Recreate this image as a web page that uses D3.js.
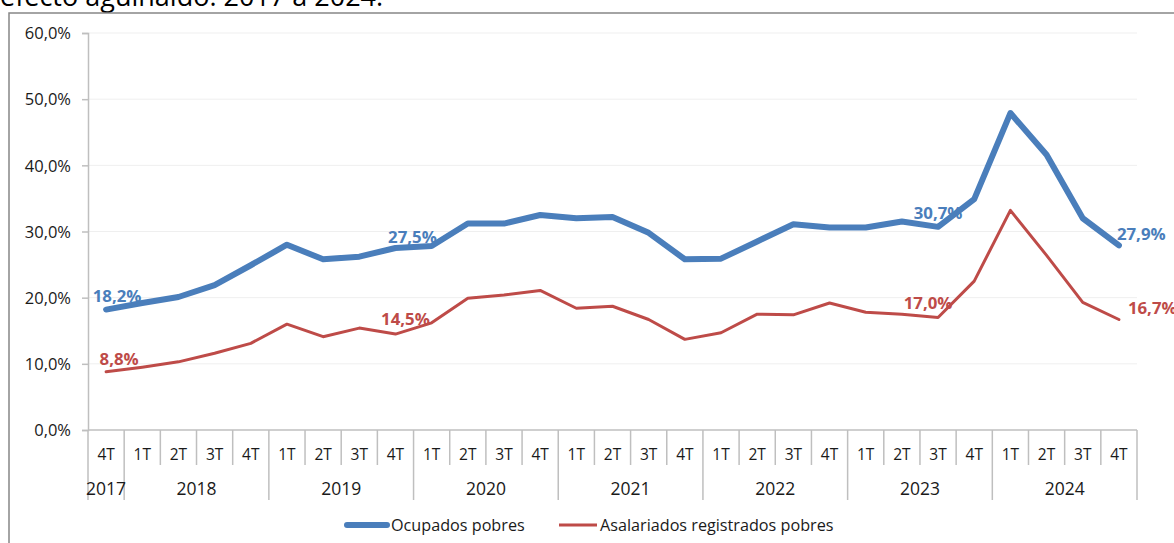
<!DOCTYPE html>
<html>
<head>
<meta charset="utf-8">
<script src="https://cdn.jsdelivr.net/npm/d3@7"></script>
<style>
  html, body { margin: 0; padding: 0; background: #fff; }
  svg { display: block; }
  text { font-family: "Open Sans", "Noto Sans", sans-serif; }
</style>
</head>
<body>
<svg id="chart" width="1174" height="543"></svg>
<script>
// ---- data ----
const quarterLabels = ["4T",
  "1T","2T","3T","4T",
  "1T","2T","3T","4T",
  "1T","2T","3T","4T",
  "1T","2T","3T","4T",
  "1T","2T","3T","4T",
  "1T","2T","3T","4T",
  "1T","2T","3T","4T"];
const yearLabels = ["2017",
  "2018","2018","2018","2018",
  "2019","2019","2019","2019",
  "2020","2020","2020","2020",
  "2021","2021","2021","2021",
  "2022","2022","2022","2022",
  "2023","2023","2023","2023",
  "2024","2024","2024","2024"];
const ocupadosPobres = [18.2,19.2,20.1,21.9,24.9,28.0,25.8,26.2,27.5,27.8,31.2,31.2,32.5,32.0,32.2,29.8,25.8,25.9,28.5,31.1,30.6,30.6,31.5,30.7,34.9,47.9,41.6,32.0,27.9];
const asalariadosPobres = [8.8,9.5,10.3,11.6,13.1,16.0,14.1,15.4,14.5,16.2,19.9,20.4,21.1,18.4,18.7,16.7,13.7,14.7,17.5,17.4,19.2,17.8,17.5,17.0,22.5,33.2,26.4,19.3,16.7];
const yTicks = [0,10,20,30,40,50,60];
const seriesNames = ["Ocupados pobres","Asalariados registrados pobres"];
const labeledIdx = [0, 8, 23, 28];
const titleText = "efecto aguinaldo: 2017 a 2024.";

// ---- styling / layout ----
const colors = ["#4a7ebb", "#be4b48"];
const widths = [6, 3];
const svg = d3.select("#chart");
const L = 88, R = 1137, T = 33, B = 430;

const n = quarterLabels.length;
const x = d3.scaleBand().domain(d3.range(n)).range([L, R]).paddingInner(0).paddingOuter(0);
const bw = x.bandwidth();
const cx = i => x(i) + bw / 2;
const y = d3.scaleLinear().domain([0, 60]).range([B, T]);

const loc = d3.formatLocale({decimal: ",", thousands: ".", grouping: [3], currency: ["$", ""]});
const fmt1 = loc.format(".1f");
const pct = v => fmt1(v) + "%";

// title (cropped at top, as in the source image)
svg.append("text").attr("x", 0).attr("y", 6)
  .attr("font-size", 27).attr("fill", "#000").text(titleText);

// chart border
svg.append("rect").attr("x", 9).attr("y", 13).attr("width", 1200).attr("height", 600)
  .attr("fill", "none").attr("stroke", "#878787").attr("stroke-width", 1.5);

// gridlines
svg.append("g").selectAll("line").data(yTicks.filter(d => d > 0)).join("line")
  .attr("x1", L).attr("x2", R).attr("y1", d => y(d)).attr("y2", d => y(d))
  .attr("stroke", "#efefef").attr("stroke-width", 1);

// y axis
const yAxis = d3.axisLeft(y).tickValues(yTicks).tickFormat(pct).tickSize(6).tickPadding(11);
const gy = svg.append("g").attr("transform", `translate(${L},0)`).call(yAxis);
gy.select(".domain").attr("stroke", "#bfbfbf").attr("stroke-width", 1.5);
gy.selectAll(".tick line").attr("stroke", "#bfbfbf").attr("stroke-width", 1.5);
gy.selectAll(".tick text").attr("font-size", 16.5).attr("fill", "#1a1a1a")
  .attr("font-family", '"Open Sans", sans-serif').attr("dy", "0.35em");

// x axis line at 0
svg.append("line").attr("x1", L).attr("x2", R).attr("y1", B).attr("y2", B)
  .attr("stroke", "#bfbfbf").attr("stroke-width", 1.5);

// category separators
const gx = svg.append("g");
const boundaries = d3.range(n + 1);
const isYearBoundary = i => i === 0 || i === n || yearLabels[i] !== yearLabels[i - 1];
gx.selectAll("line").data(boundaries).join("line")
  .attr("x1", i => i === n ? R : x(i)).attr("x2", i => i === n ? R : x(i))
  .attr("y1", B).attr("y2", i => isYearBoundary(i) ? 500 : 465)
  .attr("stroke", "#bfbfbf").attr("stroke-width", 1.5);

// quarter labels
gx.append("g").selectAll("text").data(quarterLabels).join("text")
  .attr("x", (d, i) => cx(i)).attr("y", 460)
  .attr("text-anchor", "middle").attr("font-size", 15.5).attr("fill", "#1a1a1a").text(d => d);

// year labels
const yearGroups = d3.groups(d3.range(n), i => yearLabels[i]);
gx.append("g").selectAll("text").data(yearGroups).join("text")
  .attr("x", d => (x(d[1][0]) + x(d[1][d[1].length - 1]) + bw) / 2)
  .attr("y", 495).attr("text-anchor", "middle").attr("font-size", 17.5).attr("fill", "#1a1a1a")
  .text(d => d[0]);

// lines
const series = [ocupadosPobres, asalariadosPobres];
const line = d3.line().x((d, i) => cx(i)).y(d => y(d));
series.slice().reverse().forEach((s, k) => {
  const idx = series.length - 1 - k;
  svg.append("path").datum(s).attr("d", line)
    .attr("fill", "none").attr("stroke", colors[idx]).attr("stroke-width", widths[idx])
    .attr("stroke-linejoin", "round").attr("stroke-linecap", "round");
});

// data labels (offsets relative to point)
const labelPlacement = [
  [{dx: 11, dy: -8, a: "middle"}, {dx: 17, dy: -5, a: "middle"}, {dx: 0, dy: -8, a: "middle"}, {dx: -2, dy: -5, a: "start"}],
  [{dx: 13, dy: -7, a: "middle"}, {dx: 10, dy: -9, a: "middle"}, {dx: -10, dy: -9, a: "middle"}, {dx: 9, dy: -6, a: "start"}]
];
series.forEach((s, si) => {
  svg.append("g").selectAll("text").data(labeledIdx).join("text")
    .attr("x", (i, j) => cx(i) + labelPlacement[si][j].dx)
    .attr("y", (i, j) => y(s[i]) + labelPlacement[si][j].dy)
    .attr("text-anchor", (i, j) => labelPlacement[si][j].a)
    .attr("font-size", 16.8).attr("font-weight", "bold").attr("fill", colors[si])
    .text(i => pct(s[i]));
});

// legend
const legendItems = [{x1: 347, x2: 387, tx: 391}, {x1: 559, x2: 597, tx: 600}];
const lg = svg.append("g");
seriesNames.forEach((name, i) => {
  lg.append("line").attr("x1", legendItems[i].x1).attr("x2", legendItems[i].x2)
    .attr("y1", 525).attr("y2", 525).attr("stroke", colors[i]).attr("stroke-width", widths[i])
    .attr("stroke-linecap", i === 0 ? "round" : "butt");
  lg.append("text").attr("x", legendItems[i].tx).attr("y", 530.5)
    .attr("font-size", 16.2).attr("fill", "#1a1a1a").text(name);
});
</script>
</body>
</html>
